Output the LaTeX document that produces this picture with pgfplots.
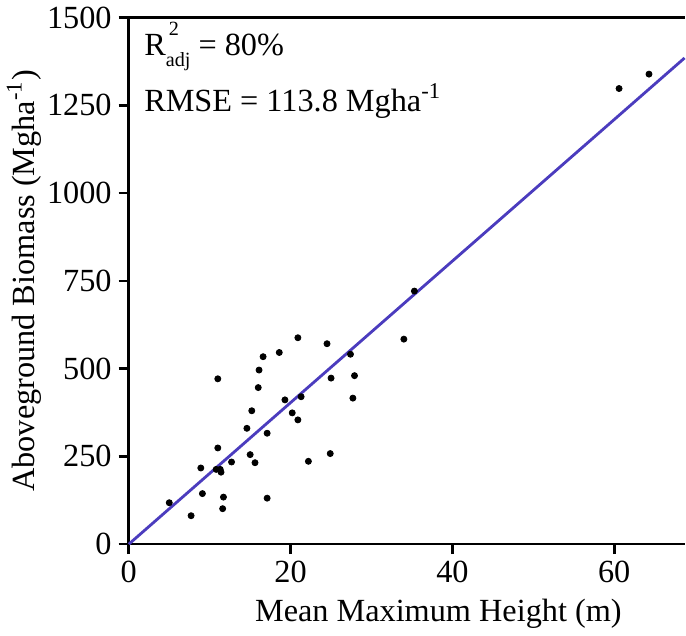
\documentclass[border=0pt]{standalone}
\usepackage{fontspec}
\setmainfont{Liberation Serif}
\usepackage{pgfplots}
\pgfplotsset{compat=1.18}

\definecolor{fitline}{RGB}{75,60,190}
\newcommand{\lbl}{\fontsize{16}{18}\selectfont}

\begin{document}
\begin{tikzpicture}
\begin{axis}[
  width=275.5pt, height=261pt,
  scale only axis,
  xmin=0, xmax=68.7,
  ymin=0, ymax=1500,
  axis lines=left,
  axis line style={-, line width=1.3pt},
  xtick={0,20,40,60},
  ytick={0,250,500,750,1000,1250,1500},
  tick style={line width=1.3pt, black},
  tick align=outside,
  major tick length=5pt,
  tick label style={font=\lbl},
  /pgf/number format/assume math mode=true,
  /pgf/number format/1000 sep={},
  xlabel={Mean Maximum Height (m)},
  ylabel={Aboveground Biomass (Mgha\textsuperscript{-1})},
  label style={font=\lbl},
  xlabel style={at={(ticklabel cs:0.557)}, anchor=north, yshift=-1pt},
  ylabel style={yshift=-4pt},
  clip=false,
]
\addplot[only marks, mark=*, mark size=1.5pt, black] coordinates {
  (5.0,118) (7.7,81) (8.9,217) (9.1,144) (11.0,471) (11.0,274)
  (10.8,213) (11.3,213) (11.4,205) (11.7,134) (11.6,101) (12.7,234)
  (14.6,330) (15.2,380) (15.0,255) (15.6,232) (16.0,446) (16.1,496)
  (16.6,534) (17.1,316) (17.1,131) (18.6,546) (19.3,411) (20.2,374)
  (20.9,354) (20.9,588) (21.3,420) (22.2,236) (24.5,571) (25.0,473)
  (24.9,258) (27.4,541) (27.9,480) (27.7,416) (34.0,584) (35.3,721)
  (60.6,1298) (64.3,1339)
};
\addplot[fitline, line width=1.4pt] coordinates {(0,0) (68.7,1385)};
\draw[line width=1.3pt] (rel axis cs:0,1) -- (rel axis cs:1,1);
\node[anchor=west, font=\lbl] at (rel axis cs:0.015,0.945)
  {R\rlap{\raisebox{0.6em}{\fontsize{10}{10}\selectfont\kern1.5pt 2}}\raisebox{-0.35em}{\fontsize{10}{10}\selectfont adj} = 80\%};
\node[anchor=west, font=\lbl] at (rel axis cs:0.015,0.842)
  {RMSE = 113.8 Mgha\textsuperscript{-1}};
\end{axis}
\end{tikzpicture}
\end{document}
